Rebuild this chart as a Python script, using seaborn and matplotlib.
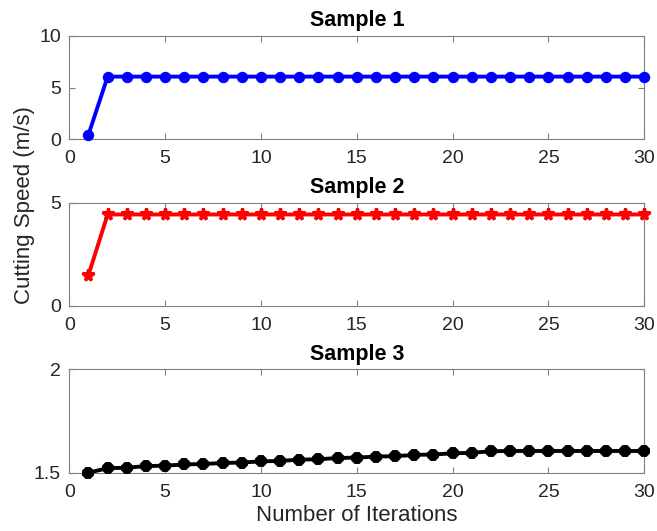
import numpy as np
import pandas as pd
import matplotlib
matplotlib.use("Agg")
import matplotlib.pyplot as plt
import seaborn as sns

iterations = list(range(1, 31))
sample1 = [0.45] + [6.05] * 29
sample2 = [1.5] + [4.43] * 29
sample3 = [1.500, 1.522, 1.524, 1.532, 1.534, 1.540, 1.542, 1.547, 1.549, 1.555,
           1.557, 1.563, 1.565, 1.571, 1.573, 1.578, 1.580, 1.586, 1.588, 1.594,
           1.596, 1.604, 1.605, 1.605, 1.605, 1.605, 1.605, 1.605, 1.605, 1.605]
titles = ["Sample 1", "Sample 2", "Sample 3"]
ylims = [(0, 10), (0, 5), (1.5, 2)]
yticks = [[0, 5, 10], [0, 5], [1.5, 2]]
ytick_labels = [["0", "5", "10"], ["0", "5"], ["1.5", "2"]]
xticks = [0, 5, 10, 15, 20, 25, 30]
colors = ["#0000ff", "#ff0000", "#000000"]
markers = ["o", "*", "8"]

sns.set_theme(style="white")
plt.rcParams['font.family'] = ['Liberation Sans', 'DejaVu Sans']

fig = plt.figure(figsize=(6.57, 5.31), dpi=100)
W, H = 657, 531
boxes = [(35.7, 139.3), (202.7, 306.0), (369.3, 472.7)]
left, right = 69.3, 644.3
axes = []
for (t, b) in boxes:
    ax = fig.add_axes([left / W, 1 - b / H, (right - left) / W, (b - t) / H])
    axes.append(ax)

series = [sample1, sample2, sample3]
msizes = [7, 8.5, 8]
medges = [1.2, 2.2, 1.4]
for i, ax in enumerate(axes):
    df = pd.DataFrame({"x": iterations, "y": series[i]})
    sns.lineplot(data=df, x="x", y="y", ax=ax, color=colors[i], linewidth=2.8,
                 marker=markers[i], markersize=msizes[i],
                 markeredgecolor=colors[i], markerfacecolor=colors[i],
                 markeredgewidth=medges[i], clip_on=False, zorder=5)
    ax.set_xlim(0, 30)
    ax.set_ylim(*ylims[i])
    ax.set_xticks(xticks)
    ax.set_xticklabels([str(v) for v in xticks])
    ax.set_yticks(yticks[i])
    ax.set_yticklabels(ytick_labels[i])
    ax.set_xlabel("")
    ax.set_ylabel("")
    ax.set_title(titles[i], fontsize=15.5, fontweight="bold", color="black", pad=7)
    ax.tick_params(direction="in", length=4, width=0.8, colors="#808080",
                   labelcolor="#262626", labelsize=14, top=True, right=True,
                   bottom=True, left=True, pad=6)
    ax.tick_params(axis="x", pad=8)
    for sp in ax.spines.values():
        sp.set_visible(True)
        sp.set_color("#808080")
        sp.set_linewidth(0.8)

axes[2].set_xlabel("Number of Iterations", fontsize=16, color="#262626", labelpad=3)
fig.text(25 / W, 1 - 205.5 / H, "Cutting Speed (m/s)", rotation=90, fontsize=16,
         color="#262626", ha="center", va="center")

fig.savefig("out.png", dpi=100)
